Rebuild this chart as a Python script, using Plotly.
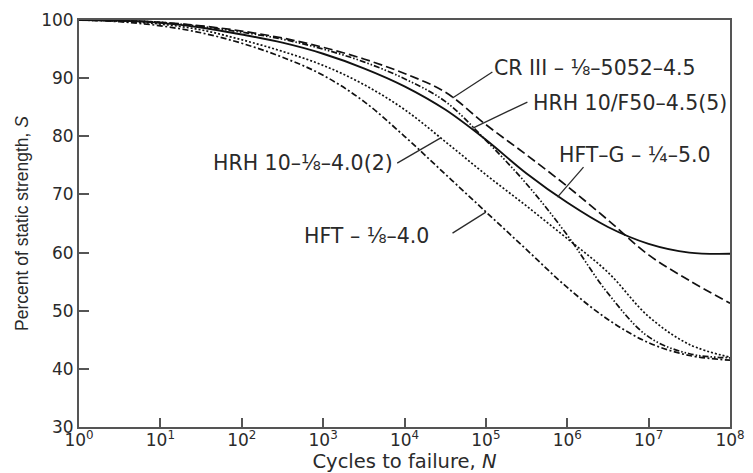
import plotly.graph_objects as go

# exponents of N (cycles to failure) at which values were read
log_n = [0, 0.5, 1, 1.5, 2, 2.5, 3, 3.5, 4, 4.5, 5, 5.5, 6, 6.5, 7, 7.5, 8]
cycles = [10 ** e for e in log_n]

# percent of static strength
s_cr3 = [100, 99.9, 99.6, 99.0, 98.1, 96.9, 95.3, 93.3, 90.8, 87.6, 82.0, 76.8, 71.4, 65.6, 59.6, 55.2, 51.3]
s_hrh_f50 = [100, 99.9, 99.6, 98.9, 97.9, 96.7, 95.0, 92.8, 89.9, 86.0, 79.3, 71.8, 63.0, 53.0, 45.5, 42.6, 41.9]
s_hftg = [100, 99.9, 99.5, 98.7, 97.5, 96.1, 94.2, 91.7, 88.6, 84.6, 79.4, 73.6, 68.6, 64.4, 61.5, 60.0, 59.8]
s_hrh10 = [100, 99.8, 99.3, 98.3, 96.6, 94.6, 92.2, 88.9, 84.6, 79.1, 73.4, 68.0, 62.4, 56.6, 49.0, 44.2, 42.0]
s_hft = [100, 99.7, 99.0, 97.8, 96.0, 93.6, 90.5, 86.0, 80.0, 73.5, 67.0, 60.5, 54.0, 48.5, 44.5, 42.3, 41.5]

series_names = ["CR III – ⅛–5052–4.5", "HRH 10/F50–4.5(5)", "HFT–G – ¼–5.0",
                "HRH 10–⅛–4.0(2)", "HFT – ⅛–4.0"]
series_values = [s_cr3, s_hrh_f50, s_hftg, s_hrh10, s_hft]
series_dash = ["9px,4px", "6px,2px,1.5px,2px,1.5px,2px", "solid", "2px,2px", "6px,2.5px,2px,2.5px"]

x_tick_vals = [10 ** k for k in range(9)]
x_tick_text = ["10<sup>%d</sup>" % k for k in range(9)]
y_tick_vals = [30, 40, 50, 60, 70, 80, 90, 100]

# label placement: (log10 N, S) of text anchor, anchor side
label_pos = [(5.08, 91.7, "left"), (5.55, 85.7, "left"), (5.87, 76.8, "left"),
             (3.88, 75.4, "right"), (2.74, 62.8, "left")]
# leader lines: (log10 N start, S start, log10 N end, S end)
leaders = [(5.08, 91.05, 4.59, 86.58), (5.51, 85.89, 4.84, 81.41), (6.20, 74.70, 5.88, 69.54),
           (3.91, 75.39, 4.44, 79.69), (4.59, 63.34, 5.00, 66.95)]

LINE = "#111111"
TEXT = "#2a2a2a"
AXIS = "#555555"

fig = go.Figure()
for name, vals, dash in zip(series_names, series_values, series_dash):
    fig.add_trace(go.Scatter(
        x=cycles, y=vals, mode="lines", name=name,
        line=dict(color=LINE, width=1.9 if dash == "solid" else 1.7, dash=dash,
                  shape="spline", smoothing=1.0),
        showlegend=False, hoverinfo="skip"))

for name, (lx, ly, side) in zip(series_names, label_pos):
    fig.add_annotation(x=lx, y=ly, xref="x", yref="y", text=name, showarrow=False,
                       xanchor=side, yanchor="middle",
                       font=dict(family="DejaVu Sans", size=20.5, color=TEXT))

for (x0, y0, x1, y1) in leaders:
    fig.add_shape(type="line", xref="x", yref="y",
                  x0=10 ** x0, y0=y0, x1=10 ** x1, y1=y1,
                  line=dict(color=TEXT, width=1.3))

fig.update_xaxes(type="log", range=[0, 8], tickvals=x_tick_vals, ticktext=x_tick_text,
                 automargin=False, ticklabelstandoff=-3,
                 showgrid=False, zeroline=False, showline=True, linecolor=AXIS, linewidth=2,
                 mirror=True, ticks="inside", ticklen=9, tickwidth=1.5, tickcolor=AXIS,
                 tickfont=dict(family="DejaVu Sans", size=17, color=TEXT),
                 title=dict(text="Cycles to failure, <i>N</i>", standoff=6,
                            font=dict(family="DejaVu Sans", size=19.5, color=TEXT)))
fig.update_yaxes(range=[30, 100], tickvals=y_tick_vals, automargin=False,
                 showgrid=False, zeroline=False, showline=True, linecolor=AXIS, linewidth=2,
                 mirror=True, ticks="inside", ticklen=10, tickwidth=1.5, tickcolor=AXIS,
                 tickfont=dict(family="DejaVu Sans", size=17, color=TEXT),
                 title=dict(text="Percent of static strength, <i>S</i>", standoff=8,
                            font=dict(family="Liberation Sans", size=17.5, color=TEXT)))

# page body adds an 8px margin, so the figure is sized to the visible area
fig.update_layout(width=745, height=465, margin=dict(l=71, r=23, t=12, b=46),
                  paper_bgcolor="white", plot_bgcolor="white")

fig.write_html("out.html")
